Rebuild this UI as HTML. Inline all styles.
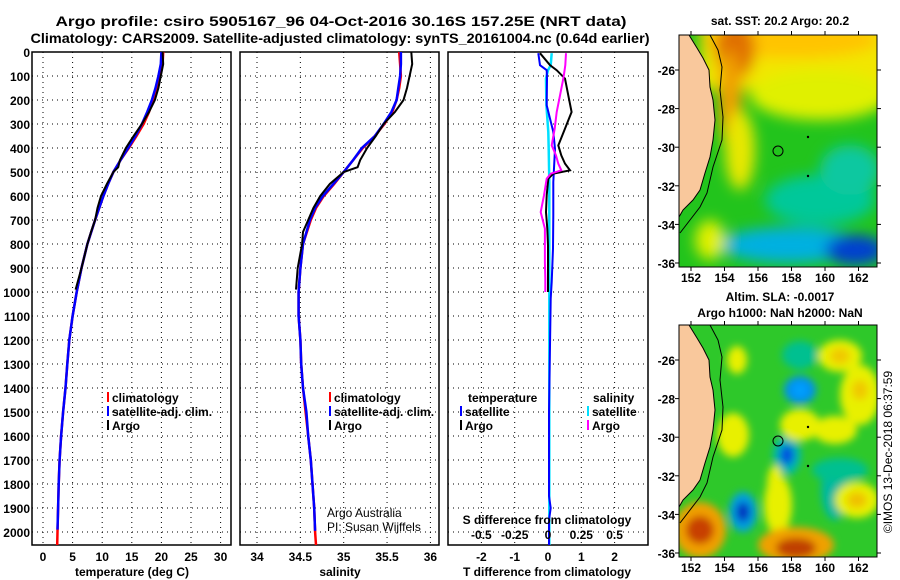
<!DOCTYPE html>
<html><head><meta charset="utf-8"><style>
body{margin:0;background:#fff;}
svg{display:block;font-family:"Liberation Sans",sans-serif;}
.b{font-weight:bold;font-size:12px;}
</style></head><body>
<svg id="fig" width="900" height="580" viewBox="0 0 900 580" xmlns="http://www.w3.org/2000/svg">
<defs>
<clipPath id="m1c"><rect x="679" y="35" width="198" height="232"/></clipPath>
<clipPath id="m2c"><rect x="679" y="325" width="198" height="232"/></clipPath>
<filter id="bl" x="-50%" y="-50%" width="200%" height="200%"><feGaussianBlur stdDeviation="7"/></filter>
<filter id="bl2" x="-50%" y="-50%" width="200%" height="200%"><feGaussianBlur stdDeviation="4"/></filter>
</defs>
<text x="341" y="26" text-anchor="middle" font-size="14" font-weight="bold" textLength="571" lengthAdjust="spacingAndGlyphs">Argo profile: csiro 5905167_96 04-Oct-2016 30.16S 157.25E (NRT data)</text>
<text x="340" y="43" text-anchor="middle" font-size="14" font-weight="bold" textLength="619" lengthAdjust="spacingAndGlyphs">Climatology: CARS2009. Satellite-adjusted climatology: synTS_20161004.nc (0.64d earlier)</text>

<!-- SST map -->
<g clip-path="url(#m1c)">
<rect x="679" y="35" width="198" height="232" fill="#22c41c"/>
<g filter="url(#bl)">
<rect x="700" y="20" width="190" height="70" fill="#f2e600"/>
<ellipse cx="820" cy="95" rx="70" ry="25" fill="#e0f000"/>
<ellipse cx="790" cy="40" rx="90" ry="18" fill="#ffc400"/>
<ellipse cx="735" cy="50" rx="20" ry="30" fill="#e07000"/>
<ellipse cx="730" cy="100" rx="12" ry="50" fill="#f0a000"/>
<ellipse cx="740" cy="150" rx="15" ry="40" fill="#e8e800"/>
<ellipse cx="820" cy="200" rx="55" ry="25" fill="#00c89a"/>
<ellipse cx="790" cy="245" rx="70" ry="18" fill="#00b0e0"/>
<ellipse cx="850" cy="170" rx="30" ry="25" fill="#10c8a0"/>
<ellipse cx="855" cy="250" rx="30" ry="15" fill="#0040d0"/>
<ellipse cx="710" cy="240" rx="15" ry="20" fill="#e0f000"/>
</g>
<polygon points="679,35 689,35 697,48 703,58 709,70 710,87 713,100 715,120 713,140 710,157 705,173 700,190 693,200 683,210 679,217" fill="#f9c89c" stroke="#000" stroke-width="1"/>
<polyline points="710,35 718,50 722,67 720,90 723,117 722,140 713,167 707,193 700,207 680,233" fill="none" stroke="#000" stroke-width="1"/>
<circle cx="778" cy="151" r="5" fill="none" stroke="#000"/>
<circle cx="808" cy="137" r="1.2" fill="#000"/><circle cx="808" cy="176" r="1.2" fill="#000"/>
</g>
<rect x="679" y="35" width="198" height="232" fill="none" stroke="#000"/>
<text x="780" y="25" text-anchor="middle" class="b">sat. SST: 20.2 Argo: 20.2</text>

<!-- SLA map -->
<g clip-path="url(#m2c)">
<rect x="679" y="325" width="198" height="232" fill="#2ec82a"/>
<g filter="url(#bl2)">
<ellipse cx="737" cy="360" rx="10" ry="14" fill="#e8f000"/>
<ellipse cx="800" cy="355" rx="18" ry="14" fill="#00c090"/>
<ellipse cx="800" cy="390" rx="16" ry="14" fill="#0090f0"/>
<ellipse cx="800" cy="390" rx="7" ry="7" fill="#00a0ff"/>
<ellipse cx="800" cy="360" rx="8" ry="10" fill="#00b0a0"/>
<ellipse cx="800" cy="360" rx="8" ry="10" fill="#00c090"/>
<ellipse cx="840" cy="356" rx="22" ry="16" fill="#e8f000"/>
<ellipse cx="840" cy="356" rx="10" ry="8" fill="#f0c800"/>
<ellipse cx="860" cy="395" rx="20" ry="30" fill="#e8f000"/>
<ellipse cx="860" cy="390" rx="8" ry="10" fill="#f0c800"/>
<ellipse cx="733" cy="435" rx="16" ry="22" fill="#e8f000"/>
<ellipse cx="787" cy="455" rx="14" ry="20" fill="#00b8b0"/>
<ellipse cx="787" cy="455" rx="7" ry="10" fill="#0050e0"/>
<ellipse cx="800" cy="425" rx="20" ry="16" fill="#e8f000"/>
<ellipse cx="835" cy="430" rx="22" ry="14" fill="#e8f000"/>
<ellipse cx="835" cy="490" rx="14" ry="30" fill="#00b8a0"/>
<ellipse cx="775" cy="485" rx="8" ry="20" fill="#e8f000"/>
<ellipse cx="840" cy="470" rx="28" ry="12" fill="#00c090"/>
<ellipse cx="778" cy="505" rx="14" ry="30" fill="#e8f000"/>
<ellipse cx="857" cy="500" rx="22" ry="18" fill="#e8f000"/>
<ellipse cx="857" cy="500" rx="10" ry="8" fill="#f0c000"/>
<ellipse cx="743" cy="512" rx="14" ry="20" fill="#00a0e0"/>
<ellipse cx="743" cy="512" rx="7" ry="10" fill="#0030c0"/>
<ellipse cx="700" cy="530" rx="26" ry="28" fill="#f0a000"/>
<ellipse cx="700" cy="530" rx="14" ry="14" fill="#c84000"/>
<ellipse cx="796" cy="545" rx="38" ry="18" fill="#f0a000"/>
<ellipse cx="796" cy="548" rx="20" ry="10" fill="#c04000"/>
</g>
<polygon points="679,325 689,325 697,338 703,348 709,360 710,377 713,390 715,410 713,430 710,447 705,463 700,480 693,490 683,500 679,507" fill="#f9c89c" stroke="#000" stroke-width="1"/>
<polyline points="710,325 718,340 722,357 720,380 723,407 722,430 713,457 707,483 700,497 680,523" fill="none" stroke="#000" stroke-width="1"/>
<circle cx="778" cy="441" r="5" fill="none" stroke="#000"/>
<circle cx="808" cy="427" r="1.2" fill="#000"/><circle cx="808" cy="466" r="1.2" fill="#000"/>
</g>
<rect x="679" y="325" width="198" height="232" fill="none" stroke="#000"/>
<text x="780" y="301" text-anchor="middle" class="b">Altim. SLA: -0.0017</text>
<text x="780" y="317" text-anchor="middle" class="b">Argo h1000: NaN h2000: NaN</text>
<text transform="translate(892,452) rotate(-90)" text-anchor="middle" font-size="12">©IMOS 13-Dec-2018 06:37:59</text>
</svg>
<script>
// ---- data ----
const depthClim = [0,50,100,150,200,250,300,350,400,450,500,550,600,650,700,800,900,1000,1100,1200,1300,1400,1500,1600,1700,1800,1900,2000,2054];
const tempClim  = [20.3,20.2,19.7,19.2,18.6,17.9,17.0,15.8,14.5,13.1,11.9,11.0,10.2,9.5,8.8,7.5,6.5,5.7,5.0,4.45,4.1,3.8,3.4,3.05,2.8,2.65,2.55,2.45,2.4];
const tempSat   = [20.0,19.9,19.5,19.0,18.4,17.6,16.7,15.6,14.4,13.1,11.9,11.0,10.2,9.5,8.8,7.5,6.5,5.7,5.0,4.45,4.1,3.8,3.4,3.05,2.8,2.65,2.55,2.45,2.4];
const salClim   = [35.64,35.65,35.66,35.64,35.61,35.56,35.47,35.36,35.22,35.11,35.0,34.89,34.77,34.68,34.62,34.53,34.5,34.48,34.48,34.5,34.51,34.53,34.56,34.59,34.62,34.64,34.66,34.67,34.68];
const salSat    = [35.66,35.66,35.65,35.63,35.61,35.55,35.46,35.36,35.21,35.11,35.0,34.88,34.76,34.67,34.61,34.53,34.5,34.48,34.48,34.5,34.51,34.53,34.57,34.59,34.62,34.64,34.66,34.67,34.68];
const depthArgo = [0,50,100,150,200,250,300,350,400,450,480,500,550,600,650,700,750,800,900,990];
const tempArgo  = [20.2,20.3,19.9,19.5,18.9,17.9,16.7,15.3,14.0,13.0,12.7,11.9,10.8,9.8,9.2,8.8,8.1,7.5,6.5,5.5];
const salArgo   = [35.78,35.79,35.76,35.73,35.69,35.59,35.46,35.37,35.27,35.19,35.16,35.0,34.84,34.73,34.65,34.59,34.53,34.52,34.47,34.45];
const depthDiff = [5,55,76,111,181,250,319,389,431,465,493,507,528,597,667,736,806,875,944,1000];
const dTempArgo = [-0.24,0.06,0.26,0.51,0.61,0.71,0.51,0.31,0.4,0.51,0.66,0.16,0.01,-0.04,-0.06,-0.02,0.0,0.0,0.0,0.0];
const dSalArgo  = [0.135,0.13,0.125,0.115,0.09,0.065,0.05,0.028,0.06,0.077,0.1,0.02,-0.01,-0.03,-0.055,-0.023,-0.023,-0.023,-0.02,-0.02];
const depthSatDiff = [5,55,76,111,222,333,403,542,681,819,958,1028,1500,1850,1900,1950,2054];
const dTempSat  = [-0.29,-0.24,-0.04,-0.03,-0.04,0.16,0.21,0.16,0.16,0.15,0.11,0.08,0.03,0.03,0.08,0.03,0.03];
const dSalSat   = [0.028,0.02,0.0,-0.015,-0.012,0.002,0.005,0.01,0.01,0.01,0.01,0.01,0.01,0.01,0.01,0.01,0.01];
const depthTicks = [0,100,200,300,400,500,600,700,800,900,1000,1100,1200,1300,1400,1500,1600,1700,1800,1900,2000];
const tempTicks = [0,5,10,15,20,25,30];
const salTicks = [34,34.5,35,35.5,36];
const salTickLabels = ['34','34.5','35','35.5','36'];
const dTTicks = [-2,-1,0,1,2];
const dSTicks = [-0.5,-0.25,0,0.25,0.5];
const dSTickLabels = ['-0.5','-0.25','0','0.25','0.5'];
const lonTicks = [152,154,156,158,160,162];
const latTicks = [-26,-28,-30,-32,-34,-36];

// ---- scales ----
const yD = d => 52 + d*0.24;
const xT = t => 43 + t*5.92;
const xS = s => 257 + (s-34)*86.7;
const xdT = t => 548 + t*33.3;
const xdS = s => 548 + s*133.2;
const xLon = l => 691 + (l-152)*16.75;
const yLat = (l,off) => off + 70 + (-l-26)*19.3;

const svg = document.getElementById('fig');
const NS = 'http://www.w3.org/2000/svg';
function mk(tag, attrs, parent){const e=document.createElementNS(NS,tag);for(const k in attrs)e.setAttribute(k,attrs[k]);(parent||svg).appendChild(e);return e;}
function txt(x,y,s,anchor,cls){const t=mk('text',{x:x,y:y,'text-anchor':anchor||'start','class':cls||'b'});t.textContent=s;return t;}

const panels = [{x0:32,x1:231,name:'temperature-panel'},{x0:240,x1:439,name:'salinity-panel'},{x0:448,x1:648,name:'difference-panel'}];
const vgrid = [tempTicks.map(xT), salTicks.map(xS), dTTicks.filter(v=>v!==0).map(xdT)];
panels.forEach((p,i)=>{
  const g = mk('g',{});
  
  
  depthTicks.forEach(d=>{
    const l = mk('line',{x1:p.x0,x2:p.x1,y1:yD(d),y2:yD(d),stroke:'#000','stroke-width':1,'stroke-dasharray':'1,4'},g);
    
    
  });
  vgrid[i].forEach(x=>{
    const l = mk('line',{x1:x,x2:x,y1:52,y2:545,stroke:'#000','stroke-width':1,'stroke-dasharray':'1,4'},g);
    
    
  });
  const r = mk('rect',{x:p.x0,y:52,width:p.x1-p.x0,height:493,fill:'none',stroke:'#000','stroke-width':1.5},g);
  
  
});
depthTicks.forEach(d=>{
  const t = txt(30,yD(d)+5,String(d),'end');
  
  
});
function series(xs, ys, fx, color, name, w){
  const pts = xs.map((v,i)=>fx(v).toFixed(1)+','+yD(ys[i]).toFixed(1)).join(' ');
  const pl = mk('polyline',{points:pts,fill:'none',stroke:color,'stroke-width':w||2});
  
  
}
series(tempClim, depthClim, xT, '#ff0000', 'temp-climatology-line', 2.5);
series(tempSat, depthClim.slice(0,-2).concat([1990]), xT, '#0000ff', 'temp-satellite-line', 2.5);
series(tempArgo, depthArgo, xT, '#000000', 'temp-argo-line', 2);
series(salClim, depthClim, xS, '#ff0000', 'sal-climatology-line', 2.5);
series(salSat, depthClim.slice(0,-2).concat([1995]), xS, '#0000ff', 'sal-satellite-line', 2.5);
series(salArgo, depthArgo, xS, '#000000', 'sal-argo-line', 2);
series(dSalSat, depthSatDiff, xdS, '#00e0ff', 'dsal-satellite-line', 2.5);
series(dTempSat, depthSatDiff, xdT, '#0000ff', 'dtemp-satellite-line', 2);
series(dTempArgo, depthDiff, xdT, '#000000', 'dtemp-argo-line', 2);
series(dSalArgo, depthDiff, xdS, '#ff00ff', 'dsal-argo-line', 2);

tempTicks.forEach(t=>{const e=txt(xT(t),561,String(t),'middle');});
salTicks.forEach((s,i)=>{const e=txt(xS(s),561,salTickLabels[i],'middle');});
dTTicks.forEach(t=>{const e=txt(xdT(t),561,String(t),'middle');});
dSTicks.forEach((s,i)=>{const e=txt(xdS(s),539,dSTickLabels[i],'middle');});
let e;
e=txt(132,576,'temperature (deg C)','middle');
e=txt(340,576,'salinity','middle');
e=txt(547,576,'T difference from climatology','middle');
e=txt(547,524,'S difference from climatology','middle');

function legendEntry(x,y,color,label,name){
  const m = mk('rect',{x:x,y:y-10,width:2,height:10,fill:color});
  
  
  const t = txt(x+5,y,label,'start');
  
  
}
[[107,'#ff0000','climatology'],[329,'#ff0000','climatology']].forEach(a=>legendEntry(a[0],402,a[1],a[2],'legend-climatology'));
[[107,'#0000ff'],[329,'#0000ff']].forEach(a=>legendEntry(a[0],416,a[1],'satellite-adj. clim.','legend-satellite-adj'));
[[107,'#000'],[329,'#000']].forEach(a=>legendEntry(a[0],430,a[1],'Argo','legend-argo'));
e=txt(468,402,'temperature','start');
e=txt(593,402,'salinity','start');
legendEntry(460,416,'#0000ff','satellite','legend-temp-satellite');
legendEntry(460,430,'#000','Argo','legend-temp-argo');
legendEntry(587,416,'#00e0ff','satellite','legend-sal-satellite');
legendEntry(587,430,'#ff00ff','Argo','legend-sal-argo');
e=txt(327,517,'Argo Australia','start','n');e.setAttribute('font-size','12');
e=txt(327,531,'PI: Susan Wijffels','start','n');e.setAttribute('font-size','12');

[0,290].forEach((off,mi)=>{
  const by = off===0 ? 267 : 557;
  lonTicks.forEach(l=>{
    mk('line',{x1:xLon(l),x2:xLon(l),y1:by,y2:by+4,stroke:'#000'});
    mk('line',{x1:xLon(l),x2:xLon(l),y1:by-232,y2:by-236,stroke:'#000'});
    const t=txt(xLon(l),by+15,String(l),'middle');
    
    
  });
  latTicks.forEach(l=>{
    const y = Math.min(yLat(l,off), by-4);
    mk('line',{x1:675,x2:679,y1:y,y2:y,stroke:'#000'});
    mk('line',{x1:877,x2:881,y1:y,y2:y,stroke:'#000'});
    const t=txt(675,y+5,String(l),'end');
    
    
  });
});
</script>
</body></html>
